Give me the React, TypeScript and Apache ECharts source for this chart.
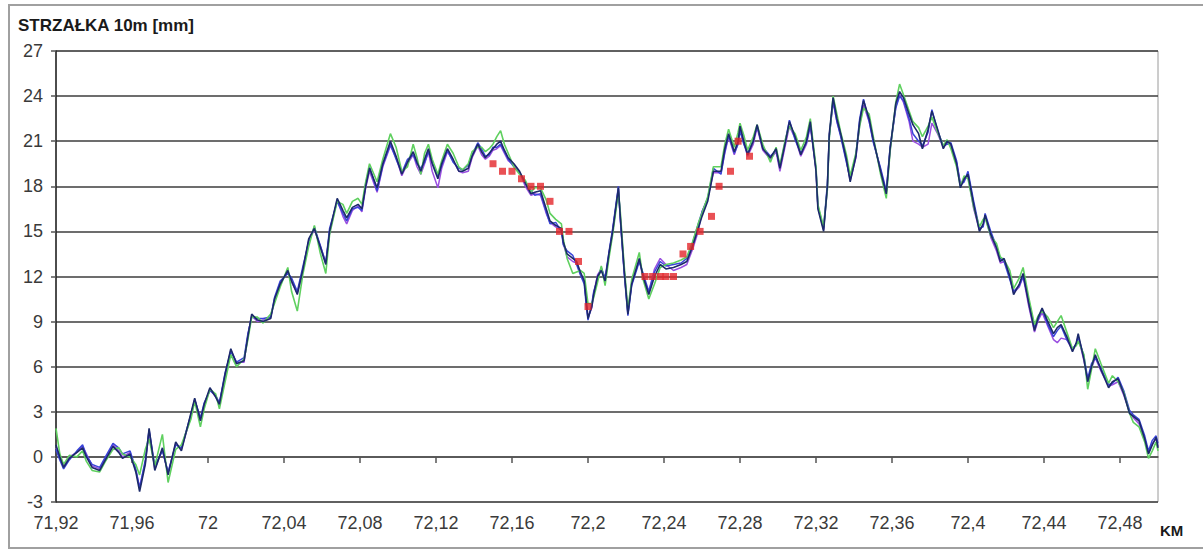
import React, { useEffect, useRef } from "react";
import * as echarts from "echarts";

// distance along track [m]
const DIST_M = [
  71920,71922,71924,71927,71931,71934,71936,71939,71943,71946,
  71950,71953,71955,71959,71962,71964,71967,71969,71972,71976,
  71979,71983,71986,71991,71993,71996,71998,72001,72004,72006,
  72009,72012,72015,72019,72021,72023,72026,72029,72033,72035,
  72038,72042,72044,72047,72050,72053,72056,72059,72062,72064,
  72068,72071,72073,72076,72079,72081,72083,72085,72089,72092,
  72096,72099,72102,72105,72108,72110,72112,72114,72116,72118,
  72121,72123,72126,72129,72132,72134,72137,72139,72142,72144,
  72146,72148,72150,72152,72154,72156,72158,72161,72164,72167,
  72170,72172,72175,72178,72180,72183,72186,72187,72189,72192,
  72194,72196,72198,72199,72200,72202,72203,72205,72207,72209,
  72211,72213,72216,72217,72219,72221,72223,72227,72229,72232,
  72235,72238,72241,72245,72249,72252,72255,72258,72260,72263,
  72266,72270,72272,72274,72277,72279,72280,72282,72284,72287,
  72289,72292,72296,72299,72301,72304,72306,72309,72312,72315,
  72317,72320,72321,72324,72326,72327,72329,72331,72333,72336,
  72338,72341,72343,72345,72348,72350,72354,72357,72359,72362,
  72364,72366,72369,72371,72374,72376,72379,72381,72384,72387,
  72389,72391,72394,72396,72398,72400,72403,72406,72408,72409,
  72412,72415,72417,72419,72422,72424,72427,72429,72432,72435,
  72437,72439,72442,72445,72447,72449,72452,72455,72457,72458,
  72461,72463,72465,72467,72470,72474,72476,72479,72482,72485,
  72487,72490,72493,72495,72497,72499,72500,
];

const NAVY = [
  0.8,0.0,-0.7,-0.1,0.3,0.6,0.0,-0.7,-0.9,-0.2,
  0.7,0.3,-0.1,0.2,-1.0,-2.3,-0.5,1.9,-0.9,0.6,
  -1.2,1.0,0.4,2.9,3.9,2.4,3.5,4.6,4.0,3.5,
  5.5,7.2,6.2,6.4,8.0,9.5,9.1,9.0,9.2,10.5,
  11.5,12.4,11.7,10.8,12.5,14.5,15.2,14.0,12.8,15.0,
  17.2,16.4,15.9,16.6,16.8,16.5,18.0,19.2,17.9,19.5,
  21.0,20.0,18.8,19.6,20.3,19.6,19.0,19.8,20.5,19.5,
  18.5,19.5,20.5,19.8,19.0,19.0,19.2,20.0,20.8,20.3,
  19.9,20.2,20.5,20.8,21.0,20.4,19.9,19.5,19.0,18.2,
  17.5,17.6,17.7,16.5,15.7,15.4,15.2,14.3,13.5,13.2,
  13.0,12.3,11.7,10.5,9.2,10.0,10.8,12.0,12.4,11.7,
  13.5,15.0,17.9,16.0,12.5,9.5,11.5,13.2,12.0,10.8,
  12.0,12.8,12.5,12.6,12.8,13.0,14.0,15.2,16.0,17.0,
  19.0,19.0,20.5,21.5,20.3,21.0,22.0,21.0,20.1,21.0,
  22.1,20.5,19.9,20.5,19.2,21.0,22.3,21.3,20.1,21.0,
  22.3,19.0,16.5,15.0,18.0,21.5,23.9,22.5,21.5,19.8,
  18.3,20.0,22.3,23.7,22.5,21.2,19.0,17.5,20.5,23.5,
  24.3,23.9,22.8,22.1,21.5,20.5,21.8,23.0,21.8,20.5,
  21.0,20.8,19.5,17.9,18.5,18.8,16.8,15.0,15.5,16.1,
  14.8,13.9,13.0,13.2,12.0,10.8,11.5,12.2,10.2,8.4,
  9.3,9.9,9.0,8.2,8.6,8.8,8.0,7.0,7.6,8.2,
  6.5,5.0,6.0,6.8,5.8,4.6,5.0,5.2,4.2,2.9,
  2.7,2.4,1.2,0.2,0.8,1.3,0.6,
];

const BLUE = [
  0.5,-0.2,-0.8,-0.2,0.4,0.8,0.1,-0.5,-0.7,0.0,
  0.9,0.6,0.2,0.4,-0.8,-2.1,-0.2,1.8,-0.6,0.4,
  -1.0,0.8,0.6,2.8,3.8,2.6,3.6,4.4,4.1,3.6,
  5.6,7.0,6.3,6.6,8.2,9.3,9.2,9.2,9.3,10.6,
  11.7,12.2,11.9,11.0,12.7,14.3,15.3,14.1,12.9,15.2,
  17.0,16.2,15.7,16.5,16.6,16.4,18.2,19.3,17.7,19.4,
  20.8,19.8,18.9,19.8,20.1,19.5,19.2,19.6,20.3,19.6,
  18.7,19.4,20.4,19.6,19.2,19.1,19.4,20.1,20.9,20.5,
  20.0,20.1,20.6,20.6,20.8,20.3,19.8,19.3,18.9,18.3,
  17.7,17.4,17.5,16.3,15.5,15.6,15.0,14.1,13.7,13.4,
  12.8,12.1,11.5,10.2,9.1,10.2,11.0,11.8,12.6,11.9,
  13.6,15.2,18.0,15.8,12.3,9.4,11.4,13.0,12.2,11.0,
  12.3,13.0,12.7,12.8,12.9,13.2,14.2,15.5,16.3,17.2,
  19.2,18.8,20.3,21.4,20.2,20.8,21.7,20.8,20.2,21.1,
  22.0,20.6,20.0,20.4,19.3,21.1,22.4,21.1,20.2,20.9,
  22.1,19.2,16.7,15.2,18.2,21.3,23.7,22.3,21.3,19.6,
  18.5,20.1,22.5,23.8,22.3,21.0,19.2,17.7,20.6,23.2,
  24.0,23.7,22.5,21.5,21.0,20.7,21.6,23.1,21.7,20.7,
  20.8,20.9,19.7,18.1,18.3,19.0,17.0,15.2,15.3,16.2,
  15.0,14.0,13.2,13.0,11.8,11.0,11.4,12.0,10.4,8.6,
  9.2,9.8,8.8,8.0,8.4,8.7,7.8,7.2,7.5,8.0,
  6.7,5.2,6.2,6.6,5.9,4.8,4.9,5.3,4.4,3.1,
  2.8,2.5,1.4,0.4,1.1,1.4,0.9,
];

const PURPLE = [
  0.6,0.1,-0.6,0.0,0.3,0.7,0.2,-0.6,-0.8,-0.1,
  0.8,0.4,0.0,0.3,-0.9,-2.0,-0.4,1.7,-0.8,0.5,
  -1.1,0.9,0.5,2.7,3.8,2.5,3.4,4.5,4.0,3.6,
  5.4,7.1,6.3,6.3,8.1,9.4,9.0,9.1,9.3,10.4,
  11.6,12.3,11.6,10.9,12.4,14.4,15.1,14.1,12.9,14.9,
  17.1,16.0,15.5,16.4,16.7,16.3,17.9,19.0,17.6,19.3,
  20.7,19.9,18.7,19.5,20.1,19.3,18.8,19.5,20.3,19.0,
  17.9,19.2,20.3,19.7,19.0,18.9,19.0,19.9,20.7,20.1,
  19.8,20.0,20.4,20.5,20.7,20.2,19.7,19.4,18.9,18.0,
  17.4,17.5,17.4,16.2,15.6,15.3,15.1,14.2,13.3,13.0,
  12.9,12.2,11.8,10.4,9.3,9.9,10.9,12.1,12.5,11.8,
  13.4,15.1,17.8,15.9,12.4,9.6,11.6,13.1,11.9,11.0,
  12.5,13.2,12.8,12.4,12.6,12.8,13.8,15.0,16.3,17.2,
  18.9,18.9,20.2,21.3,20.1,20.9,21.8,20.9,20.0,20.8,
  21.9,20.4,19.8,20.3,19.0,20.8,22.0,21.2,20.0,20.8,
  22.0,19.1,16.6,15.1,17.9,21.4,23.6,22.3,21.4,19.7,
  18.4,19.9,22.1,23.4,22.3,21.1,19.1,17.6,20.4,23.3,
  24.1,23.6,22.3,21.0,20.8,20.6,20.8,22.2,21.5,20.6,
  20.9,20.7,19.6,18.2,18.4,18.7,16.5,15.1,15.4,16.0,
  14.6,13.7,12.9,13.0,12.1,10.9,11.3,12.0,10.0,8.3,
  9.1,9.6,8.7,7.8,7.6,7.9,7.8,7.1,7.5,8.0,
  6.4,5.1,5.9,6.6,5.7,4.7,4.8,5.0,4.1,3.0,
  2.6,2.2,1.1,0.3,0.9,1.2,0.7,
];

const GREEN = [
  1.9,0.2,-0.5,0.1,0.0,0.4,-0.3,-0.9,-1.0,-0.3,
  0.5,0.6,0.2,0.0,-0.5,-1.2,0.5,1.2,-0.6,1.5,
  -1.7,0.5,0.8,2.5,3.7,2.0,3.2,4.5,4.2,3.2,
  5.0,6.8,6.0,6.5,7.8,9.3,9.3,8.9,9.5,10.2,
  11.3,12.6,11.0,9.7,12.2,14.0,15.4,13.6,12.2,14.8,
  17.0,16.8,16.2,17.0,17.2,16.8,18.3,19.5,18.3,19.8,
  21.5,20.6,19.0,19.3,20.8,19.9,18.8,20.2,20.8,19.8,
  18.8,19.7,20.8,20.2,19.3,19.1,19.5,20.3,20.6,20.6,
  20.3,20.5,20.8,21.3,21.7,20.8,20.2,19.3,18.8,18.4,
  17.6,17.9,17.9,17.1,16.2,15.8,15.5,14.5,13.2,12.2,
  12.3,12.4,12.2,11.2,10.2,10.2,10.6,11.6,12.7,11.4,
  13.2,14.8,17.6,16.3,12.8,9.8,11.8,13.6,11.8,10.5,
  11.5,12.6,12.8,12.9,13.1,13.3,14.3,15.5,16.2,17.3,
  19.3,19.3,20.8,21.8,20.6,21.6,22.2,21.4,20.4,21.3,
  22.1,20.8,19.6,20.6,19.4,21.2,22.0,21.5,20.4,21.3,
  22.5,19.3,16.8,15.3,17.8,21.2,24.0,22.8,21.6,20.1,
  18.7,20.2,22.0,23.2,22.8,21.4,18.8,17.2,20.3,23.6,
  24.8,24.1,23.0,22.3,21.9,21.3,22.0,22.6,21.6,20.7,
  21.1,20.5,19.3,18.0,18.7,18.5,16.6,15.3,15.8,15.9,
  14.7,14.2,13.3,13.1,12.4,11.2,11.9,12.6,10.6,8.8,
  9.4,9.7,9.3,8.6,9.0,9.4,8.3,7.2,7.4,7.7,
  6.8,4.5,5.8,7.2,6.2,4.9,5.4,5.0,4.3,2.9,
  2.3,2.0,1.0,-0.1,0.4,1.0,0.4,
];

// design (red) points
const RED_M = [
  72150,72155,72160,72165,72170,72175,72180,72185,72190,72195,72200,
  72230,72234,72238,72241,72245,72250,72254,72259,72265,72269,72275,72279,72285,
];
const RED_V = [
  19.5,19.0,19.0,18.5,18.0,18.0,17.0,15.0,15.0,13.0,10.0,
  12.0,12.0,12.0,12.0,12.0,13.5,14.0,15.0,16.0,18.0,19.0,21.0,20.0,
];

const Y_MIN = -3;
const Y_MAX = 27;
const Y_STEP = 3;
const X_MIN = 71920;
const X_MAX = 72500;
const X_STEP = 40;

const TITLE = "STRZAŁKA 10m [mm]";
const X_UNIT = "KM";

const pair = (xs: number[], ys: number[]) => xs.map((x, i) => [x, ys[i]]);

export default function App() {
  const ref = useRef<HTMLDivElement>(null);
  useEffect(() => {
    if (!ref.current) return;
    const chart = echarts.init(ref.current, null, { renderer: "svg" });
    const lineS = (name: string, data: number[], color: string, w: number) => ({
      name,
      type: "line",
      data: pair(DIST_M, data),
      showSymbol: false,
      symbol: "none",
      lineStyle: { color, width: w },
      itemStyle: { color },
      clip: true,
    });
    chart.setOption({
      animation: false,
      backgroundColor: "#ffffff",
      textStyle: { fontFamily: "Liberation Sans" },
      grid: {
        left: 56,
        top: 51,
        right: 45,
        bottom: 51,
        show: true,
        borderColor: "#9a9a9a",
        borderWidth: 1,
        backgroundColor: "#ffffff",
      },
      graphic: [
        {
          type: "rect",
          shape: { x: 9, y: 5, width: 1200, height: 543 },
          style: { fill: "none", stroke: "#a0a0a0", lineWidth: 2 },
          silent: true,
        },
        {
          type: "text",
          left: 18,
          top: 17,
          style: {
            text: TITLE,
            fontFamily: "Liberation Sans",
            fontWeight: "bold",
            fontSize: 17,
            fill: "#1a1a1a",
          },
        },
        {
          type: "text",
          left: 1160,
          top: 523,
          style: {
            text: X_UNIT,
            fontFamily: "Liberation Sans",
            fontWeight: "bold",
            fontSize: 15,
            fill: "#1a1a1a",
          },
        },
      ],
      xAxis: {
        type: "value",
        min: X_MIN,
        max: X_MAX,
        interval: X_STEP,
        axisLine: { show: true, lineStyle: { color: "#555", width: 1.5 } },
        axisTick: { show: true, length: 6, lineStyle: { color: "#555", width: 1.5 } },
        splitLine: { show: false },
        axisLabel: {
          showMaxLabel: false,
          margin: 12,
          fontSize: 18,
          color: "#3a3a3a",
          fontFamily: "Liberation Sans",
          formatter: (v: number) => {
            const km = Math.round(v) / 1000;
            return String(parseFloat(km.toFixed(2))).replace(".", ",");
          },
        },
      },
      yAxis: {
        type: "value",
        min: Y_MIN,
        max: Y_MAX,
        interval: Y_STEP,
        axisLine: { show: true, lineStyle: { color: "#222", width: 1.5 } },
        axisTick: { show: true, length: 5, lineStyle: { color: "#555", width: 1.5 } },
        splitLine: { show: true, lineStyle: { color: "#3c3c3c", width: 1.5 } },
        axisLabel: {
          margin: 13,
          fontSize: 18,
          color: "#3a3a3a",
          fontFamily: "Liberation Sans",
        },
      },
      series: [
        lineS("purple", PURPLE, "#9a4fe0", 1.5),
        lineS("blue", BLUE, "#3a44d8", 1.5),
        lineS("green", GREEN, "#5fd05f", 1.6),
        lineS("navy", NAVY, "#1c2a6a", 1.6),
        {
          name: "design",
          type: "scatter",
          data: pair(RED_M, RED_V),
          symbol: "rect",
          symbolSize: 7,
          itemStyle: { color: "#e3262b" },
          z: 5,
        },
      ],
    });
    return () => chart.dispose();
  }, []);
  return (
    <div
      ref={ref}
      style={{ position: "fixed", left: 0, top: 0, width: 1203, height: 553 }}
    />
  );
}
